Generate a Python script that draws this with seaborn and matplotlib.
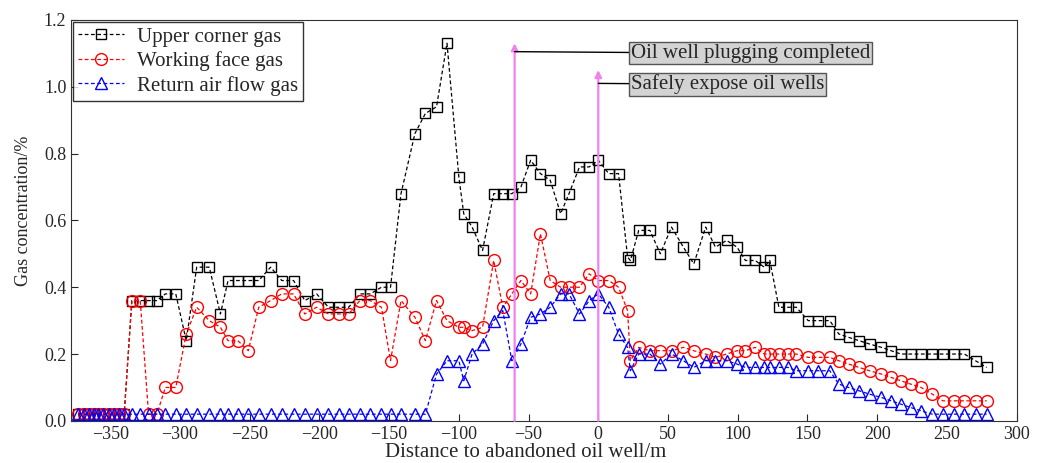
import matplotlib
matplotlib.use("Agg")
import matplotlib.pyplot as plt
import numpy as np
import pandas as pd
import seaborn as sns

# distance to the abandoned oil well (m), shared by the three series
distance = [
    -373, -369, -365.5, -362, -358.5, -355, -351, -347, -343.5, -340,
    -334.5, -328.5, -322.5, -316.5, -310.5, -303, -295.5, -288, -279, -271,
    -265.5, -258.5, -251, -243.5, -235, -227, -218.5, -210.5, -202, -193.5,
    -186, -179, -171, -163.5, -155.5, -149, -141.5, -131.5, -124, -116,
    -108.5, -100, -96.5, -90.5, -83, -75, -68.5, -62, -55.5, -48.5,
    -41.5, -34.5, -27, -21, -13.5, -6.5, 0, 7.5, 14.5, 21,
    23, 29, 37, 44.5, 52.5, 61, 68.5, 77, 84, 92,
    99.5, 105.5, 112.5, 119, 123, 129.5, 136, 142, 150.5, 157.5,
    166, 172.5, 179.5, 187, 194.5, 203, 210, 217, 224, 231.5,
    239.5, 247, 255, 262.5, 270.5, 278.5,
]

upper_corner = [
    0.02, 0.02, 0.02, 0.02, 0.02, 0.02, 0.02, 0.02, 0.02, 0.02,
    0.36, 0.36, 0.36, 0.36, 0.38, 0.38, 0.24, 0.46, 0.46, 0.32,
    0.42, 0.42, 0.42, 0.42, 0.46, 0.42, 0.42, 0.36, 0.38, 0.34,
    0.34, 0.34, 0.38, 0.38, 0.40, 0.40, 0.68, 0.86, 0.92, 0.94,
    1.13, 0.73, 0.62, 0.58, 0.51, 0.68, 0.68, 0.68, 0.70, 0.78,
    0.74, 0.72, 0.62, 0.68, 0.76, 0.76, 0.78, 0.74, 0.74, 0.49,
    0.48, 0.57, 0.57, 0.50, 0.58, 0.52, 0.47, 0.58, 0.52, 0.54,
    0.52, 0.48, 0.48, 0.46, 0.48, 0.34, 0.34, 0.34, 0.30, 0.30,
    0.30, 0.26, 0.25, 0.24, 0.23, 0.22, 0.21, 0.20, 0.20, 0.20,
    0.20, 0.20, 0.20, 0.20, 0.18, 0.16,
]

working_face = [
    0.02, 0.02, 0.02, 0.02, 0.02, 0.02, 0.02, 0.02, 0.02, 0.02,
    0.36, 0.36, 0.02, 0.02, 0.10, 0.10, 0.26, 0.34, 0.30, 0.28,
    0.24, 0.24, 0.21, 0.34, 0.36, 0.38, 0.38, 0.32, 0.34, 0.32,
    0.32, 0.32, 0.36, 0.36, 0.34, 0.18, 0.36, 0.31, 0.24, 0.36,
    0.30, 0.28, 0.28, 0.27, 0.28, 0.48, 0.34, 0.38, 0.42, 0.38,
    0.56, 0.42, 0.40, 0.40, 0.40, 0.44, 0.42, 0.42, 0.40, 0.33,
    0.18, 0.22, 0.21, 0.21, 0.21, 0.22, 0.21, 0.20, 0.19, 0.20,
    0.21, 0.21, 0.22, 0.20, 0.20, 0.20, 0.20, 0.20, 0.19, 0.19,
    0.19, 0.18, 0.17, 0.16, 0.15, 0.14, 0.13, 0.12, 0.11, 0.10,
    0.08, 0.06, 0.06, 0.06, 0.06, 0.06,
]

return_air = [
    0.02, 0.02, 0.02, 0.02, 0.02, 0.02, 0.02, 0.02, 0.02, 0.02,
    0.02, 0.02, 0.02, 0.02, 0.02, 0.02, 0.02, 0.02, 0.02, 0.02,
    0.02, 0.02, 0.02, 0.02, 0.02, 0.02, 0.02, 0.02, 0.02, 0.02,
    0.02, 0.02, 0.02, 0.02, 0.02, 0.02, 0.02, 0.02, 0.02, 0.14,
    0.18, 0.18, 0.12, 0.20, 0.23, 0.30, 0.33, 0.18, 0.23, 0.31,
    0.32, 0.34, 0.38, 0.38, 0.32, 0.36, 0.38, 0.34, 0.26, 0.22,
    0.15, 0.20, 0.20, 0.17, 0.20, 0.18, 0.16, 0.18, 0.18, 0.18,
    0.17, 0.16, 0.16, 0.16, 0.16, 0.16, 0.16, 0.15, 0.15, 0.15,
    0.15, 0.11, 0.10, 0.09, 0.08, 0.07, 0.06, 0.05, 0.04, 0.03,
    0.02, 0.02, 0.02, 0.02, 0.02, 0.02,
]

series = [
    ("Upper corner gas", upper_corner, "black", "s", 7),
    ("Working face gas", working_face, "red", "o", 8.5),
    ("Return air flow gas", return_air, "blue", "^", 8.5),
]

events = [
    (-60, 1.13, 1.105, 1.10, "Oil well plugging completed"),
    (0, 1.05, 1.01, 1.007, "Safely expose oil wells"),
]

sns.set_style("ticks")
plt.rcParams["font.family"] = ["Liberation Serif", "DejaVu Serif"]
plt.rcParams["font.size"] = 12

fig, ax = plt.subplots(figsize=(10.47, 4.63), dpi=100)

for label, values, color, marker, ms in series:
    df = pd.DataFrame({"x": distance, "y": values})
    sns.lineplot(data=df, x="x", y="y", ax=ax, estimator=None, sort=False,
                 color=color, lw=0.9, linestyle=(0, (3, 2)), marker=marker,
                 markersize=ms, markerfacecolor="none",
                 markeredgecolor=color, markeredgewidth=1.0, label=label)

for xv, tip, y_line, y_text, text in events:
    ax.annotate("", xy=(xv, tip), xytext=(xv, 0),
                arrowprops=dict(arrowstyle="-|>", color="violet", lw=1.6,
                                mutation_scale=10, shrinkA=0, shrinkB=0))
    ax.annotate(text, xy=(xv, y_line), xytext=(23.5, y_text),
                va="center", ha="left", fontsize=15,
                bbox=dict(boxstyle="square,pad=0.08", fc="#d3d3d3",
                          ec="#555555", lw=1),
                arrowprops=dict(arrowstyle="-", color="black", lw=1,
                                shrinkA=0, shrinkB=0))

ax.set_xlim(-378, 300)
ax.set_ylim(0, 1.2)
ax.set_xticks(np.arange(-350, 301, 50))
ax.set_yticks(np.arange(0, 1.21, 0.2))
ax.yaxis.set_major_formatter(matplotlib.ticker.FormatStrFormatter("%.1f"))
ax.tick_params(direction="in", labelsize=13, length=5)
ax.set_xlabel("Distance to abandoned oil well/m", fontsize=15)
ax.set_ylabel("Gas concentration/%", fontsize=13)
ax.xaxis.set_label_coords(0.481, -0.055)
ax.yaxis.set_label_coords(-0.041, 0.524)
for sp in ax.spines.values():
    sp.set_visible(True)
    sp.set_color("#333333")

leg = ax.legend(loc="upper left", fontsize=15, frameon=True, fancybox=False,
                borderaxespad=0.1, handlelength=2.2, handletextpad=0.6,
                borderpad=0.25, labelspacing=0.22)
leg.get_frame().set_edgecolor("black")
leg.get_frame().set_linewidth(1)

plt.subplots_adjust(left=0.068, right=0.971, bottom=0.091, top=0.957)
plt.savefig("out.png")
plt.close(fig)
